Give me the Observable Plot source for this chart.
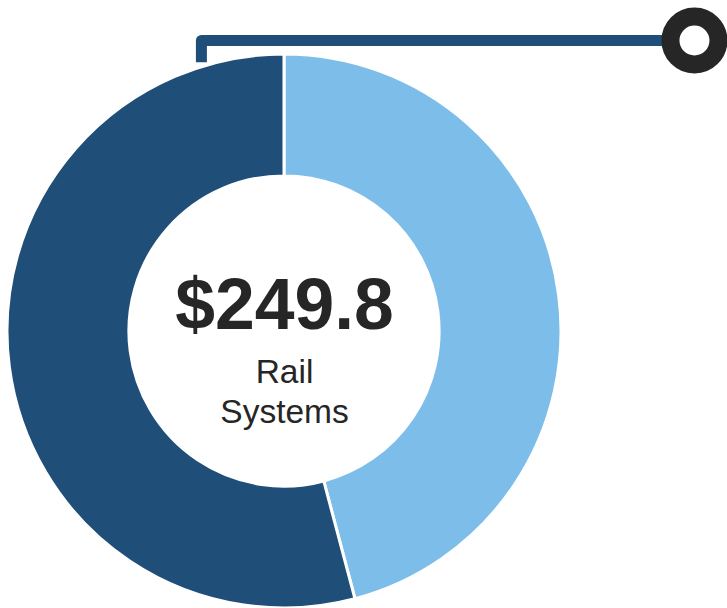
<!DOCTYPE html>
<html>
<head>
<meta charset="utf-8">
<script src="https://cdn.jsdelivr.net/npm/d3@7"></script>
<script src="https://cdn.jsdelivr.net/npm/@observablehq/plot@0.6"></script>
<style>
  html, body { margin: 0; padding: 0; background: #ffffff; }
  #chart svg { display: block; }
</style>
</head>
<body>
<div id="chart"></div>
<script>
// Data
const segments = ["Segment A", "Segment B"];
const segmentValues = [114.6, 135.2];
const segmentColors = ["#7dbde9", "#1f4e79"];
const totalLabel = "$249.8";
const centerLines = ["Rail", "Systems"];

// Connector callout path (in donut-radius units, center = 0,0)
const connectorX = [-0.30, -0.30, 1.48];
const connectorY = [0.972, 1.0505, 1.0505];

const slices = segments.map((s, i) => ({name: s, value: segmentValues[i], color: segmentColors[i]}));
const connector = connectorX.map((x, i) => ({x, y: connectorY[i]}));
const innerRatio = 0.56;

const donut = Plot.dot([{x: 0, y: 0}], {
  x: "x", y: "y",
  render(index, scales, values, dimensions, context) {
    const cx = scales.x(0), cy = scales.y(0);
    const R = scales.x(1) - scales.x(0);
    const pie = d3.pie().sort(null).value(d => d.value).startAngle(0).endAngle(2 * Math.PI)(slices);
    const arc = d3.arc().innerRadius(R * innerRatio).outerRadius(R);
    const g = d3.create("svg:g").attr("transform", `translate(${cx},${cy})`);
    g.selectAll("path").data(pie).join("path")
      .attr("d", arc)
      .attr("fill", d => d.data.color)
      .attr("stroke", "#ffffff")
      .attr("stroke-width", 3)
      .attr("stroke-linejoin", "miter");
    return g.node();
  }
});

const chart = Plot.plot({
  width: 727,
  height: 608,
  margin: 0,
  x: {domain: [-1, 1], range: [7, 561], axis: null},
  y: {domain: [-1, 1], range: [608, 54], axis: null},
  style: {fontFamily: "'Liberation Sans', Arial, sans-serif", background: "#ffffff"},
  marks: [
    Plot.line(connector, {x: "x", y: "y", stroke: "#1f4e79", strokeWidth: 11, strokeLinejoin: "round", strokeLinecap: "butt"}),
    Plot.dot([connector[connector.length - 1]], {x: "x", y: "y", r: 24, stroke: "#262626", strokeWidth: 18, fill: "#ffffff"}),
    donut,
    Plot.text([totalLabel], {x: () => 0, y: () => 0, text: d => d, dy: -3, lineAnchor: "bottom", fontSize: 71.5, fontWeight: "bold", fill: "#262626"}),
    Plot.text(centerLines, {x: () => 0, y: () => 0, text: d => d, lineAnchor: "bottom", fontSize: 33.5, fill: "#262626", filter: (d, i) => i === 0, dy: 51.5}),
    Plot.text(centerLines, {x: () => 0, y: () => 0, text: d => d, lineAnchor: "bottom", fontSize: 33.5, fill: "#262626", filter: (d, i) => i === 1, dy: 91.5})
  ]
});
document.getElementById("chart").appendChild(chart);
</script>
</body>
</html>
